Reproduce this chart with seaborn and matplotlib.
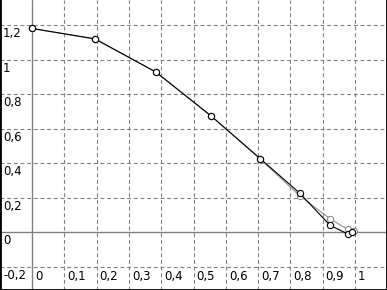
import matplotlib
matplotlib.use("Agg")
import matplotlib.pyplot as plt
import matplotlib.transforms as mtransforms
import seaborn as sns
import pandas as pd

sns.set_style("white")
plt.rcParams['font.family'] = ['DejaVu Sans']

x_vals = [0.0, 0.195, 0.383, 0.555, 0.707, 0.829, 0.924, 0.978, 0.998]
gray_y = [1.18, 1.118, 0.928, 0.672, 0.422, 0.21, 0.075, 0.015, 0.006]
black_x = [0.0, 0.195, 0.383, 0.555, 0.707, 0.829, 0.922, 0.978, 0.99]
black_y = [1.18, 1.12, 0.928, 0.672, 0.425, 0.225, 0.04, -0.012, 0.002]

x_ticks = [0.0, 0.1, 0.2, 0.3, 0.4, 0.5, 0.6, 0.7, 0.8, 0.9, 1.0]
x_labels = ["0", "0,1", "0,2", "0,3", "0,4", "0,5", "0,6", "0,7", "0,8", "0,9", "1"]
y_ticks = [-0.2, 0.0, 0.2, 0.4, 0.6, 0.8, 1.0, 1.2]
y_labels = ["-0,2", "0", "0,2", "0,4", "0,6", "0,8", "1", "1,2"]

fig = plt.figure(figsize=(3.87, 2.90), dpi=100)
ax = fig.add_axes([0, 0, 1, 1])
ax.set_xlim(-0.099, 1.099)
ax.set_ylim(-0.336, 1.345)

grid_kw = dict(color="#808080", lw=0.8, dashes=(3.5, 2.5), zorder=1)
for xv in x_ticks:
    if xv != 0:
        ax.axvline(xv, **grid_kw)
for yv in y_ticks:
    if yv != 0:
        ax.axhline(yv, **grid_kw)
ax.axvline(0, color="#808080", lw=1.0, zorder=1)
ax.axhline(0, color="#808080", lw=1.0, zorder=1)

df_g = pd.DataFrame({"x": x_vals, "y": gray_y})
df_b = pd.DataFrame({"x": black_x, "y": black_y})
sns.lineplot(data=df_g, x="x", y="y", ax=ax, sort=False, color="#909090", lw=0.8,
             marker="o", markersize=4.5, markerfacecolor="white", markeredgecolor="#909090",
             markeredgewidth=0.8, zorder=3)
sns.lineplot(data=df_b, x="x", y="y", ax=ax, sort=False, color="black", lw=0.8,
             marker="o", markersize=4.5, markerfacecolor="white", markeredgecolor="black",
             markeredgewidth=0.8, zorder=4)

ax.set_xticks([])
ax.set_yticks([])
ax.set_xlabel("")
ax.set_ylabel("")

ytrans = mtransforms.blended_transform_factory(ax.transAxes, ax.transData)
ytrans = mtransforms.offset_copy(ytrans, fig=fig, x=3, y=-2, units='dots')
for yv, lab in zip(y_ticks, y_labels):
    ax.text(0, yv, lab, transform=ytrans, ha='left', va='top', fontsize=8.5, color='black')

xtrans = mtransforms.offset_copy(ax.transData, fig=fig, x=3, y=-3, units='dots')
for xv, lab in zip(x_ticks, x_labels):
    ax.text(xv, -0.2, lab, transform=xtrans, ha='left', va='top', fontsize=8.5, color='black')

for side in ["left", "right", "bottom"]:
    ax.spines[side].set_color("black")
    ax.spines[side].set_linewidth(2)
ax.spines["top"].set_visible(False)

fig.savefig("out.png", dpi=100)
